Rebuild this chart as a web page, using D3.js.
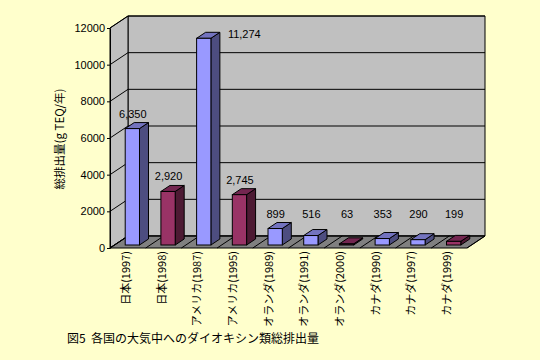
<!DOCTYPE html>
<html><head><meta charset="utf-8">
<script src="https://cdn.jsdelivr.net/npm/d3@7"></script>
<style>
html,body{margin:0;padding:0;background:#FFFFCC;}
svg{display:block;}
</style></head>
<body>
<svg id="chart" width="540" height="360"></svg>
<script>
const categories = ["日本(1997)","日本(1998)","アメリカ(1987)","アメリカ(1995)","オランダ(1989)","オランダ(1991)","オランダ(2000)","カナダ(1990)","カナダ(1997)","カナダ(1999)"];
const values = [6350, 2920, 11274, 2745, 899, 516, 63, 353, 290, 199];
const valueLabels = ["6,350","2,920","11,274","2,745","899","516","63","353","290","199"];
const seriesKind = ["a","b","a","b","a","a","b","a","a","b"];
const yTicks = [0,2000,4000,6000,8000,10000,12000];
const yTitle = "総排出量(g TEQ/年)";
const caption = "図5\u00A0\u00A0各国の大気中へのダイオキシン類総排出量";

const colors = {
  a: {front:"#9999FF", side:"#4D4D80", top:"#7373BF"},
  b: {front:"#993366", side:"#4D1A33", top:"#732650"}
};

const svg = d3.select("#chart");
svg.append("rect").attr("width",540).attr("height",360).attr("fill","#FFFFCC");

const x = d3.scaleBand().domain(categories).range([110, 467]);
const y = d3.scaleLinear().domain([0, 12000]).range([248, 28]);
const DX = 18, DY = -12;
const x0 = x.range()[0], x1 = x.range()[1];
const yb = y(0), yt = y(12000);
const jp = "'Noto Sans CJK JP', sans-serif";
const lat = "'Liberation Sans', Arial, sans-serif";

const poly = pts => pts.map(p => p.join(",")).join(" ");

// back wall
svg.append("polygon").attr("points", poly([[x0+DX,yt+DY],[x1+DX,yt+DY],[x1+DX,yb+DY],[x0+DX,yb+DY]]))
  .attr("fill","#C0C0C0").attr("stroke","#000").attr("stroke-width",1);
// left wall
svg.append("polygon").attr("points", poly([[x0,yt],[x0+DX,yt+DY],[x0+DX,yb+DY],[x0,yb]]))
  .attr("fill","#C0C0C0").attr("stroke","#000").attr("stroke-width",1);
// floor
svg.append("polygon").attr("points", poly([[x0,yb],[x1,yb],[x1+DX,yb+DY],[x0+DX,yb+DY]]))
  .attr("fill","#808080").attr("stroke","#000").attr("stroke-width",1);

// gridlines
yTicks.forEach(t => {
  svg.append("polyline").attr("points", poly([[x0,y(t)],[x0+DX,y(t)+DY],[x1+DX,y(t)+DY]]))
    .attr("fill","none").attr("stroke","#000").attr("stroke-width",1);
});
// floor category lines
const bounds = categories.map(c => x(c)).concat([x1]);
bounds.forEach(b => {
  svg.append("line").attr("x1",b).attr("y1",yb).attr("x2",b+DX).attr("y2",yb+DY)
    .attr("stroke","#000").attr("stroke-width",1);
});

// y axis
const yAxis = d3.axisLeft(y).tickValues(yTicks).tickFormat(d3.format("d")).tickSize(3).tickSizeOuter(0).tickPadding(2);
const ga = svg.append("g").attr("transform",`translate(${x0},0)`).call(yAxis);
ga.selectAll("path,line").attr("stroke","#000");
ga.selectAll("text").attr("font-family",lat).attr("font-size","11px").attr("fill","#000");

// bars
const bw = x.bandwidth()/2.5;
const fdx = DX*0.25, fdy = DY*0.25, ddx = DX*0.5, ddy = DY*0.5;
const bars = svg.append("g");
categories.forEach((c,i) => {
  const col = colors[seriesKind[i]];
  const L = x(c) + (x.bandwidth()-bw)/2 + fdx;
  const R = L + bw;
  const B = yb + fdy;
  const T = y(values[i]) + fdy;
  const g = bars.append("g");
  g.append("polygon").attr("points", poly([[R,B],[R+ddx,B+ddy],[R+ddx,T+ddy],[R,T]]))
    .attr("fill",col.side).attr("stroke","#000").attr("stroke-width",1).attr("stroke-linejoin","round");
  g.append("polygon").attr("points", poly([[L,T],[R,T],[R+ddx,T+ddy],[L+ddx,T+ddy]]))
    .attr("fill",col.top).attr("stroke","#000").attr("stroke-width",1).attr("stroke-linejoin","round");
  g.append("rect").attr("x",L).attr("y",T).attr("width",bw).attr("height",B-T)
    .attr("fill",col.front).attr("stroke","#000").attr("stroke-width",1);

  // value label
  let lx = x(c) + x.bandwidth()/2 + 5, ly = Math.min(T - 11, 218), anchor = "middle";
  if (T - 20 < yt) { lx = R + ddx + 8; ly = T; anchor = "start"; }
  svg.append("text").attr("x",lx).attr("y",ly).attr("text-anchor",anchor)
    .attr("font-family",lat).attr("font-size","11px").attr("fill","#000").text(valueLabels[i]);

  // category label
  const cx = x(c) + x.bandwidth()/2 - 2;
  svg.append("text").attr("transform",`translate(${cx+4},${yb+3}) rotate(-90)`)
    .attr("text-anchor","end").attr("font-family",jp).attr("font-size","11px").attr("fill","#000").text(c);
});

// y title
svg.append("text").attr("transform",`translate(64,139) rotate(-90)`).attr("text-anchor","middle")
  .attr("font-family",jp).attr("font-size","11.5px").attr("fill","#000").text(yTitle);

// caption
svg.append("text").attr("x",67).attr("y",343).attr("font-family",jp).attr("font-size","12px").attr("fill","#000")
  .text(caption);
</script>
</body></html>
